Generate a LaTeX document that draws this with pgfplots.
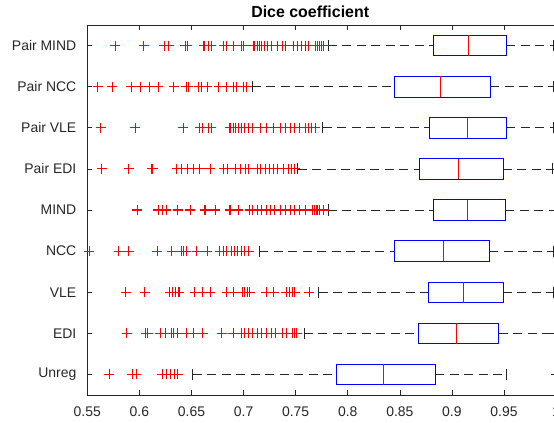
\documentclass[border=0pt]{standalone}
\usepackage{pgfplots}
\pgfplotsset{compat=1.18}
\usepgfplotslibrary{statistics}
\usepackage{fontspec}
\setmainfont{Liberation Sans}
\definecolor{axgray}{rgb}{0.15,0.15,0.15}
\definecolor{mred}{rgb}{1,0,0}
\begin{document}
\begin{tikzpicture}
\begin{axis}[
  at={(0,0)}, anchor=south west,
  scale only axis, width=468.8bp, height=370bp,
  xmin=0.55, xmax=1, ymin=0.5, ymax=9.5,
  xtick={0.55,0.6,0.65,0.7,0.75,0.8,0.85,0.9,0.95,1},
  xticklabels={0.55,0.6,0.65,0.7,0.75,0.8,0.85,0.9,0.95,1},
  ytick={1,2,3,4,5,6,7,8,9},
  yticklabels={Unreg,EDI,VLE,NCC,MIND,Pair EDI,Pair VLE,Pair NCC,Pair MIND},
  tick align=inside, major tick length=5bp,
  xtick pos=both, ytick pos=both,
  axis line style={axgray, line width=0.6bp},
  tick style={axgray, line width=0.6bp},
  ticklabel style={font=\fontsize{14}{16}\selectfont, text=axgray},
  xticklabel style={yshift=-8bp},
  yticklabel style={xshift=-7.5bp},
  title={Dice coefficient},
  title style={font=\fontsize{16}{18}\selectfont\bfseries, at={(0.4755,1)}, anchor=base, yshift=2bp},
  boxplot/draw direction=x,
  boxplot/box extend=0.5,
  boxplot/whisker extend=0.27,
  boxplot/every box/.style={draw=blue, line width=0.7bp},
  boxplot/every median/.style={draw=red, line width=0.7bp},
  boxplot/draw/lower whisker/.code={%
    \draw[black!85, line width=0.6bp, dash pattern=on 9bp off 5.5bp]
      (boxplot cs:\pgfplotsboxplotvalue{lower whisker}) -- (boxplot cs:\pgfplotsboxplotvalue{lower quartile});
    \draw[black!85, line width=0.6bp]
      (boxplot whisker cs:\pgfplotsboxplotvalue{lower whisker},0) -- (boxplot whisker cs:\pgfplotsboxplotvalue{lower whisker},1);
  },
  boxplot/draw/upper whisker/.code={%
    \draw[black!85, line width=0.6bp, dash pattern=on 9bp off 5.5bp]
      (boxplot cs:\pgfplotsboxplotvalue{upper quartile}) -- (boxplot cs:\pgfplotsboxplotvalue{upper whisker});
    \draw[black!85, line width=0.6bp]
      (boxplot whisker cs:\pgfplotsboxplotvalue{upper whisker},0) -- (boxplot whisker cs:\pgfplotsboxplotvalue{upper whisker},1);
  },
  every axis plot/.append style={color=mred, mark=+, mark size=5bp, mark options={solid, draw=mred, color=mred, line width=1.05bp}},
]
% Pair MIND
\addplot[color=mred, boxplot prepared={draw position=9, lower whisker=0.781, lower quartile=0.882, median=0.916, upper quartile=0.952, upper whisker=0.997}]
 table[row sep=\\, y index=0] {data\\ 0.577\\ 0.604\\ 0.624\\ 0.628\\ 0.644\\ 0.646\\ 0.662\\ 0.666\\ 0.669\\ 0.681\\ 0.684\\ 0.690\\ 0.698\\ 0.700\\ 0.710\\ 0.713\\ 0.715\\ 0.717\\ 0.720\\ 0.723\\ 0.727\\ 0.733\\ 0.737\\ 0.740\\ 0.748\\ 0.752\\ 0.756\\ 0.759\\ 0.762\\ 0.769\\ 0.771\\ 0.773\\ 0.775\\ 0.777\\};
% Pair NCC
\addplot[color=mred, boxplot prepared={draw position=8, lower whisker=0.708, lower quartile=0.845, median=0.889, upper quartile=0.937, upper whisker=0.997}]
 table[row sep=\\, y index=0] {data\\ 0.560\\ 0.574\\ 0.592\\ 0.601\\ 0.610\\ 0.618\\ 0.633\\ 0.645\\ 0.647\\ 0.657\\ 0.660\\ 0.665\\ 0.676\\ 0.684\\ 0.690\\ 0.693\\ 0.700\\ 0.703\\};
% Pair VLE
\addplot[color=mred, boxplot prepared={draw position=7, lower whisker=0.776, lower quartile=0.878, median=0.915, upper quartile=0.952, upper whisker=0.997}]
 table[row sep=\\, y index=0] {data\\ 0.563\\ 0.596\\ 0.642\\ 0.658\\ 0.661\\ 0.666\\ 0.669\\ 0.687\\ 0.690\\ 0.692\\ 0.695\\ 0.698\\ 0.701\\ 0.705\\ 0.709\\ 0.716\\ 0.722\\ 0.729\\ 0.735\\ 0.740\\ 0.745\\ 0.749\\ 0.754\\ 0.759\\ 0.762\\ 0.765\\ 0.769\\};
% Pair EDI
\addplot[color=mred, boxplot prepared={draw position=6, lower whisker=0.752, lower quartile=0.869, median=0.906, upper quartile=0.949, upper whisker=0.996}]
 table[row sep=\\, y index=0] {data\\ 0.564\\ 0.590\\ 0.612\\ 0.613\\ 0.636\\ 0.640\\ 0.646\\ 0.652\\ 0.658\\ 0.668\\ 0.681\\ 0.685\\ 0.692\\ 0.697\\ 0.702\\ 0.705\\ 0.713\\ 0.716\\ 0.721\\ 0.725\\ 0.729\\ 0.733\\ 0.738\\ 0.743\\ 0.746\\ 0.749\\};
% MIND
\addplot[color=mred, boxplot prepared={draw position=5, lower whisker=0.781, lower quartile=0.8825, median=0.915, upper quartile=0.951, upper whisker=0.999}]
 table[row sep=\\, y index=0] {data\\ 0.598\\ 0.618\\ 0.622\\ 0.626\\ 0.637\\ 0.649\\ 0.663\\ 0.673\\ 0.687\\ 0.695\\ 0.706\\ 0.709\\ 0.713\\ 0.717\\ 0.722\\ 0.726\\ 0.730\\ 0.735\\ 0.740\\ 0.745\\ 0.749\\ 0.754\\ 0.759\\ 0.766\\ 0.768\\ 0.770\\ 0.771\\ 0.773\\ 0.777\\};
% NCC
\addplot[color=mred, boxplot prepared={draw position=4, lower whisker=0.715, lower quartile=0.845, median=0.892, upper quartile=0.936, upper whisker=0.997}]
 table[row sep=\\, y index=0] {data\\ 0.552\\ 0.580\\ 0.590\\ 0.617\\ 0.631\\ 0.640\\ 0.642\\ 0.645\\ 0.655\\ 0.665\\ 0.677\\ 0.681\\ 0.684\\ 0.688\\ 0.691\\ 0.694\\ 0.698\\ 0.701\\ 0.705\\};
% VLE
\addplot[color=mred, boxplot prepared={draw position=3, lower whisker=0.772, lower quartile=0.877, median=0.911, upper quartile=0.949, upper whisker=0.997}]
 table[row sep=\\, y index=0] {data\\ 0.587\\ 0.605\\ 0.629\\ 0.632\\ 0.635\\ 0.638\\ 0.653\\ 0.661\\ 0.668\\ 0.684\\ 0.690\\ 0.699\\ 0.701\\ 0.704\\ 0.706\\ 0.722\\ 0.729\\ 0.741\\ 0.744\\ 0.747\\ 0.749\\ 0.763\\};
% EDI
\addplot[color=mred, boxplot prepared={draw position=2, lower whisker=0.758, lower quartile=0.868, median=0.904, upper quartile=0.945, upper whisker=0.999}]
 table[row sep=\\, y index=0] {data\\ 0.588\\ 0.606\\ 0.608\\ 0.620\\ 0.625\\ 0.631\\ 0.633\\ 0.637\\ 0.645\\ 0.652\\ 0.661\\ 0.679\\ 0.690\\ 0.698\\ 0.701\\ 0.705\\ 0.709\\ 0.713\\ 0.717\\ 0.722\\ 0.727\\ 0.731\\ 0.737\\ 0.741\\ 0.747\\ 0.749\\ 0.751\\};
% Unreg
\addplot[color=mred, boxplot prepared={draw position=1, lower whisker=0.651, lower quartile=0.789, median=0.8345, upper quartile=0.884, upper whisker=0.952}]
 table[row sep=\\, y index=0] {data\\ 0.571\\ 0.593\\ 0.597\\ 0.622\\ 0.626\\ 0.630\\ 0.634\\ 0.637\\};
\end{axis}
\pgfresetboundingbox
\path[use as bounding box] (-87.3bp,-28bp) rectangle (466.7bp,395bp);
\end{tikzpicture}
\end{document}
